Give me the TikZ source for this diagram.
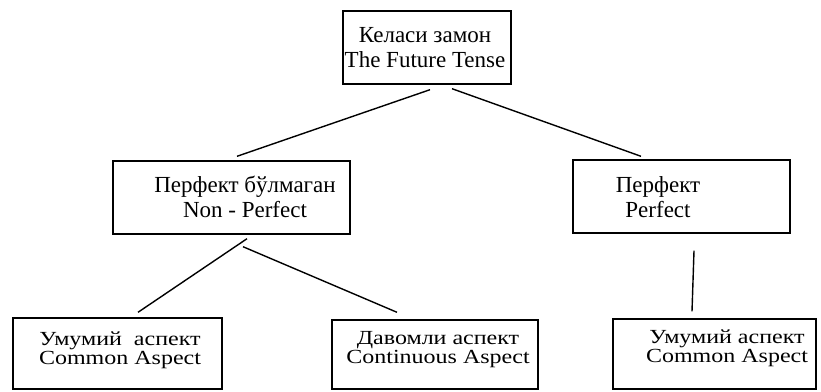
\documentclass[tikz,border=0pt]{standalone}
\usepackage{fontspec}
\setmainfont{Liberation Serif}
\newfontfamily\widefont[FakeStretch=1.2]{Liberation Serif}
\begin{document}
\begin{tikzpicture}[x=1pt,y=-1pt,
  box/.style={draw=black,line width=1.4pt,rectangle,inner sep=0pt},
  bigtxt/.style={align=center,inner sep=0pt,font=\fontsize{23pt}{25pt}\selectfont},
  smalltxt/.style={align=center,inner sep=0pt,font=\widefont\fontsize{20pt}{19pt}\selectfont},
  link/.style={line width=1.4pt}]
\useasboundingbox (0,0) rectangle (821,391);
% boxes
\node[box,minimum width=168pt,minimum height=73pt] (top) at (427,47.5) {};
\node[box,minimum width=237pt,minimum height=73pt] (np) at (231.5,197.5) {};
\node[box,minimum width=217pt,minimum height=73pt] (pf) at (681.5,196.5) {};
\node[box,minimum width=209pt,minimum height=71pt] (b1) at (117.5,353.5) {};
\node[box,minimum width=206pt,minimum height=69pt] (b2) at (435,354.5) {};
\node[box,minimum width=203pt,minimum height=70pt] (b3) at (714.5,354) {};
% texts
\node[bigtxt] (toptxt) at (425,48) {Келаси замон\\The Future Tense};
\node[bigtxt] (nptxt) at (245,197) {Перфект бўлмаган\\Non - Perfect};
\node[bigtxt] (pftxt) at (658,197) {Перфект\\Perfect};
\node[smalltxt] (b1txt) at (120,350) {Умумий\ \ аспект\\Common Aspect};
\node[smalltxt] (b2txt) at (438,350) {Давомли аспект\\Continuous Aspect};
\node[smalltxt] (b3txt) at (727,348) {Умумий аспект\\Common Aspect};
% connectors
\draw[link] ([xshift=3pt,yshift=-5pt]top.south) -- ([xshift=5.5pt,yshift=4pt]np.north);
\draw[link] ([xshift=25pt,yshift=-4pt]top.south) -- ([xshift=-40.5pt,yshift=3pt]pf.north);
\draw[link] ([xshift=15.5pt,yshift=-4pt]np.south) -- ([xshift=20.5pt,yshift=5pt]b1.north);
\draw[link] ([xshift=11.5pt,yshift=-12pt]np.south) -- ([xshift=-38pt,yshift=7pt]b2.north);
\draw[link] ([xshift=12.5pt,yshift=-17pt]pf.south) -- ([xshift=-22.5pt,yshift=7pt]b3.north);
\end{tikzpicture}
\end{document}
